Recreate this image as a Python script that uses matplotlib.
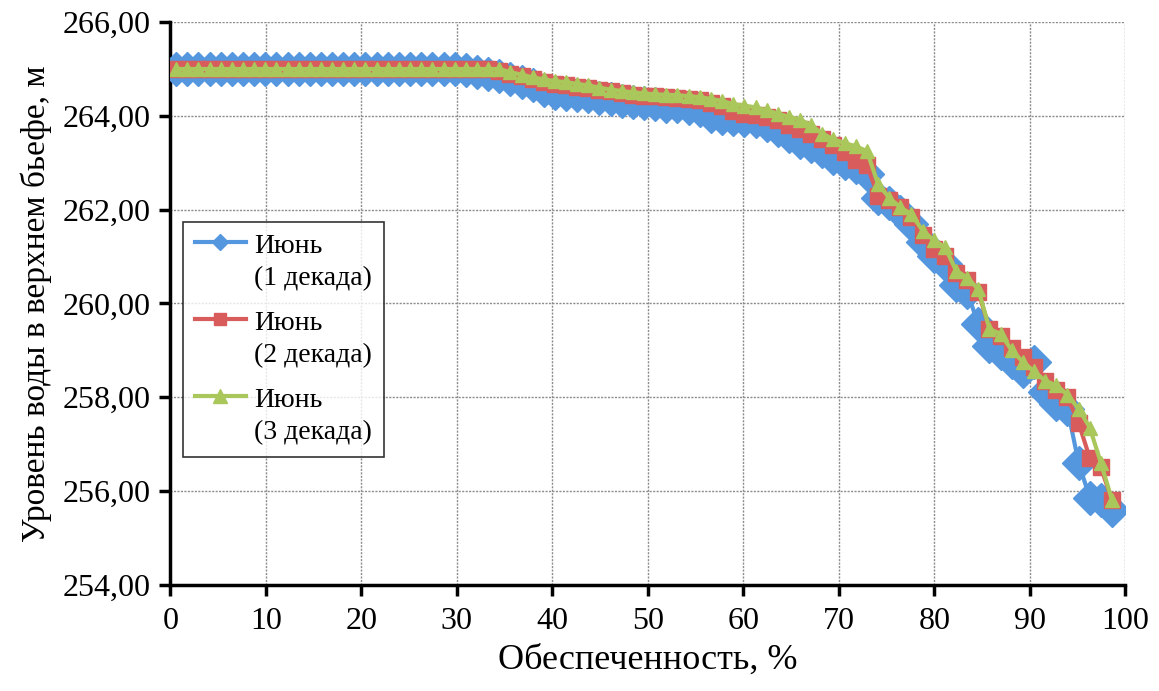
import matplotlib
matplotlib.use("Agg")
import numpy as np
import matplotlib.pyplot as plt
from matplotlib.legend_handler import HandlerLine2D
from matplotlib.ticker import FuncFormatter, MultipleLocator

# Обеспеченность, % (shared x for all three series)
supply = [0.60, 1.77, 2.93, 4.10, 5.27, 6.43, 7.60, 8.77, 9.93, 11.10,
          12.27, 13.43, 14.60, 15.77, 16.93, 18.10, 19.27, 20.43, 21.60, 22.77,
          23.93, 25.10, 26.27, 27.43, 28.60, 29.77, 30.93, 32.10, 33.27, 34.43,
          35.60, 36.77, 37.93, 39.10, 40.27, 41.43, 42.60, 43.77, 44.93, 46.10,
          47.27, 48.43, 49.60, 50.77, 51.93, 53.10, 54.27, 55.43, 56.60, 57.77,
          58.93, 60.10, 61.27, 62.43, 63.60, 64.77, 65.93, 67.10, 68.27, 69.43,
          70.60, 71.77, 72.93, 74.10, 75.27, 76.43, 77.60, 78.77, 79.93, 81.10,
          82.27, 83.43, 84.60, 85.77, 86.93, 88.10, 89.27, 90.43, 91.60, 92.77,
          93.93, 95.10, 96.27, 97.43, 98.60]

# water level, m
june_1 = [265.00] * 26 + [
    264.97, 264.93, 264.90, 264.85, 264.78, 264.72, 264.65, 264.55, 264.48, 264.47,
    264.45, 264.42, 264.38, 264.35, 264.32, 264.30, 264.27, 264.25, 264.22, 264.20,
    264.17, 264.12, 264.00, 263.95, 263.93, 263.92, 263.88, 263.80, 263.70, 263.58,
    263.45, 263.35, 263.25, 263.10, 263.00, 262.90, 262.75, 262.25, 262.15, 261.95,
    261.70, 261.30, 261.00, 260.85, 260.40, 260.25, 259.55, 259.10, 258.95, 258.75,
    258.55, 258.75, 258.10, 257.85, 257.75, 256.60, 255.85, 255.80, 255.60]

june_2 = [265.00] * 29 + [
    264.95, 264.90, 264.85, 264.78, 264.72, 264.68, 264.65, 264.62, 264.60, 264.56,
    264.52, 264.48, 264.45, 264.43, 264.42, 264.40, 264.38, 264.36, 264.33, 264.28,
    264.22, 264.10, 264.05, 264.02, 263.98, 263.92, 263.80, 263.72, 263.62, 263.50,
    263.38, 263.22, 263.05, 262.95, 262.30, 262.20, 262.05, 261.85, 261.45, 261.15,
    261.00, 260.65, 260.50, 260.25, 259.45, 259.30, 259.05, 258.85, 258.65, 258.35,
    258.15, 258.00, 257.45, 256.70, 256.50, 255.80]

june_3 = [265.00] * 30 + [
    264.93, 264.88, 264.82, 264.78, 264.74, 264.72, 264.68, 264.65, 264.60, 264.56,
    264.53, 264.50, 264.48, 264.46, 264.45, 264.44, 264.42, 264.40, 264.36, 264.32,
    264.25, 264.22, 264.18, 264.12, 264.05, 263.98, 263.92, 263.80, 263.62, 263.50,
    263.42, 263.35, 263.25, 262.55, 262.25, 262.05, 261.90, 261.55, 261.35, 261.20,
    260.70, 260.55, 260.30, 259.45, 259.35, 259.00, 258.75, 258.55, 258.35, 258.25,
    258.05, 257.75, 257.35, 256.60, 255.80]

labels = ["Июнь\n(1 декада)", "Июнь\n(2 декада)", "Июнь\n(3 декада)"]

BLUE = '#5597DE'
RED = '#D95C5C'
GREEN = '#A9C75B'

plt.rcParams['font.family'] = ['Liberation Serif', 'DejaVu Serif']


class TopLineHandler(HandlerLine2D):
    # puts the legend sample next to the first line of a two-line label
    legend_ms = {'D': 8, 's': 9, '^': 10}

    def create_artists(self, legend, orig_handle, xdescent, ydescent,
                       width, height, fontsize, trans):
        arts = super().create_artists(legend, orig_handle, xdescent, ydescent,
                                      width, height, fontsize, trans)
        shift = 0.72 * fontsize
        for a in arts:
            a.set_ydata(np.asarray(a.get_ydata()) + shift)
            m = orig_handle.get_marker()
            if a.get_marker() not in (None, 'None', ''):
                a.set_markersize(self.legend_ms.get(m, 8))
        return arts


fig = plt.figure(figsize=(11.59, 6.91), dpi=100)
ax = fig.add_axes([0.147, 0.154, 0.824, 0.814])

l1, = ax.plot(supply, june_1, color=BLUE, lw=3, marker='D', ms=17,
              mec=BLUE, mfc=BLUE, label=labels[0], zorder=3)
l2, = ax.plot(supply, june_2, color=RED, lw=3, marker='s', ms=11,
              mec=RED, mfc=RED, label=labels[1], zorder=4)
l3, = ax.plot(supply, june_3, color=GREEN, lw=3, marker='^', ms=10.5,
              mec=GREEN, mfc=GREEN, label=labels[2], zorder=5)

ax.set_xlim(0, 100)
ax.set_ylim(254, 266)
ax.xaxis.set_major_locator(MultipleLocator(10))
ax.yaxis.set_major_locator(MultipleLocator(2))
ax.yaxis.set_major_formatter(FuncFormatter(lambda v, p: f"{v:.2f}".replace('.', ',')))

ax.grid(True, color='#8c8c8c', lw=1, ls=(0, (1.5, 1)))
ax.set_axisbelow(True)
for s in ['top', 'right']:
    ax.spines[s].set_visible(False)
for s in ['left', 'bottom']:
    ax.spines[s].set_linewidth(2.5)
    ax.spines[s].set_color('black')
ax.tick_params(direction='out', length=8, width=2.5, labelsize=23, pad=6)
ax.tick_params(axis='x', pad=8)

ax.set_xlabel("Обеспеченность, %", fontsize=26, labelpad=6)
ax.set_ylabel("Уровень воды в верхнем бьефе, м", fontsize=24, labelpad=8)

leg = ax.legend(handler_map={l1: TopLineHandler(), l2: TopLineHandler(),
                             l3: TopLineHandler()},
                loc='upper left', bbox_to_anchor=(183 / 1159, 1 - 222 / 691),
                bbox_transform=fig.transFigure, fontsize=20, frameon=True,
                fancybox=False, edgecolor='black',
                handlelength=1.85, handletextpad=0.3, labelspacing=0.72,
                borderpad=0.42, borderaxespad=0)
for t in leg.get_texts():
    t.set_linespacing(1.37)
leg.get_frame().set_linewidth(1.2)

fig.savefig("out.png", dpi=100)
